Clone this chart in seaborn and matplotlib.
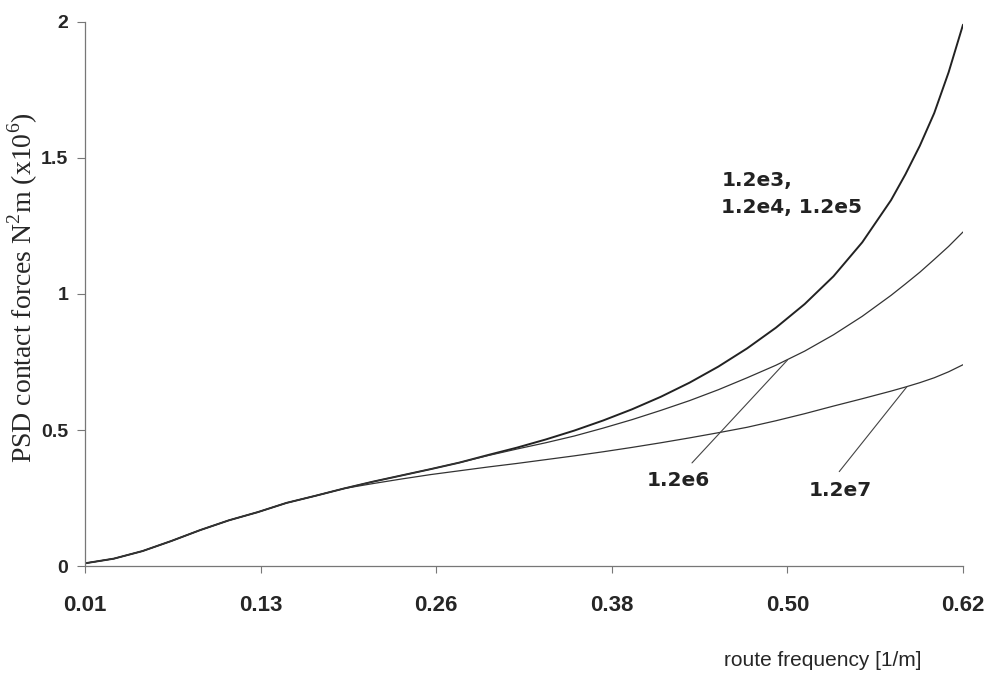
import matplotlib
matplotlib.use("Agg")
import matplotlib.pyplot as plt
import seaborn as sns
import pandas as pd

# ---- data ----
x_vals = [0.01, 0.03, 0.05, 0.07, 0.09, 0.11, 0.13, 0.15, 0.17, 0.19, 0.21, 0.23,
          0.25, 0.27, 0.29, 0.31, 0.33, 0.35, 0.37, 0.39, 0.41, 0.43, 0.45, 0.47,
          0.49, 0.51, 0.53, 0.55, 0.57, 0.58, 0.59, 0.60, 0.61, 0.62]
y_low_damp = [0.010, 0.027, 0.055, 0.092, 0.132, 0.168, 0.198, 0.232, 0.258, 0.285,
              0.310, 0.333, 0.356, 0.380, 0.408, 0.435, 0.465, 0.498, 0.535, 0.576,
              0.622, 0.674, 0.733, 0.800, 0.876, 0.963, 1.065, 1.190, 1.345, 1.440,
              1.545, 1.665, 1.815, 1.990]
y_1e6 = [0.010, 0.027, 0.055, 0.092, 0.132, 0.168, 0.198, 0.232, 0.258, 0.285,
         0.310, 0.333, 0.356, 0.380, 0.406, 0.430, 0.453, 0.478, 0.507, 0.538,
         0.572, 0.608, 0.648, 0.692, 0.738, 0.790, 0.850, 0.918, 0.995, 1.037,
         1.080, 1.127, 1.175, 1.228]
y_1e7 = [0.010, 0.027, 0.055, 0.092, 0.132, 0.168, 0.198, 0.232, 0.258, 0.285,
         0.303, 0.320, 0.336, 0.350, 0.364, 0.377, 0.391, 0.405, 0.420, 0.436,
         0.453, 0.471, 0.490, 0.510, 0.534, 0.560, 0.588, 0.615, 0.643, 0.658,
         0.674, 0.692, 0.714, 0.740]

xtick_vals = [0.01, 0.132, 0.254, 0.376, 0.498, 0.62]
xtick_labels = ["0.01", "0.13", "0.26", "0.38", "0.50", "0.62"]
ytick_vals = [0, 0.5, 1, 1.5, 2]
ytick_labels = ["0", "0.5", "1", "1.5", "2"]

series_names = ["1.2e3-1.2e5", "1.2e6", "1.2e7"]

df = pd.concat([
    pd.DataFrame({"x": x_vals, "y": y_low_damp, "s": series_names[0]}),
    pd.DataFrame({"x": x_vals, "y": y_1e6, "s": series_names[1]}),
    pd.DataFrame({"x": x_vals, "y": y_1e7, "s": series_names[2]}),
])

sns.set_theme(style="white")
plt.rcParams["mathtext.fontset"] = "custom"
plt.rcParams["mathtext.rm"] = "Liberation Serif"

fig = plt.figure(figsize=(9.87, 6.76), dpi=100)
ax = fig.add_axes([0.0861, 0.1627, 0.8896, 0.8048])

sns.lineplot(data=df, x="x", y="y", hue="s", size="s",
             palette={series_names[0]: "#222222", series_names[1]: "#333333", series_names[2]: "#333333"},
             sizes={series_names[0]: 1.4, series_names[1]: 0.9, series_names[2]: 0.9},
             legend=False, ax=ax, estimator=None, sort=False)

ax.set_xlim(0.01, 0.62)
ax.set_ylim(0, 2)
ax.set_xticks(xtick_vals)
ax.set_xticklabels(xtick_labels, family=["Liberation Sans Narrow", "Liberation Sans"],
                   fontweight="bold", fontsize=16)
ax.set_yticks(ytick_vals)
ax.set_yticklabels(ytick_labels, family="Liberation Sans", fontweight="bold", fontsize=14)
ax.tick_params(axis="x", length=5, width=0.8, color="#777777", pad=16, direction="out", bottom=True)
ax.tick_params(axis="y", length=6, width=0.8, color="#777777", pad=6, direction="out", left=True)
for side in ["top", "right"]:
    ax.spines[side].set_visible(False)
for side in ["left", "bottom"]:
    ax.spines[side].set_color("#777777")
    ax.spines[side].set_linewidth(0.9)

ax.set_xlabel("")
ax.set_ylabel("")
fig.text(0.023, 0.574, r"PSD contact forces N$^{\mathrm{2}}$m (x10$^{\mathrm{6}}$)",
         rotation=90, ha="center", va="center", family="Liberation Serif", fontsize=20)
fig.text(0.934, 0.023, "route frequency [1/m]", ha="right", va="center",
         family=["Liberation Sans Narrow", "Liberation Sans"], fontsize=15)

lab_kw = dict(family="DejaVu Sans", fontweight="bold", fontsize=14.5, color="#222222")
ax.text(0.452, 1.368, "1.2e3,\n1.2e4, 1.2e5", ha="left", va="center", linespacing=1.5, **lab_kw)
ax.text(0.422, 0.316, "1.2e6", ha="center", va="center", **lab_kw)
ax.text(0.535, 0.276, "1.2e7", ha="center", va="center", **lab_kw)
ax.annotate("", xy=(0.498, 0.757), xytext=(0.4317, 0.379),
            arrowprops=dict(arrowstyle="-", lw=0.8, color="#444444", shrinkA=0, shrinkB=0))
ax.annotate("", xy=(0.581, 0.659), xytext=(0.534, 0.347),
            arrowprops=dict(arrowstyle="-", lw=0.8, color="#444444", shrinkA=0, shrinkB=0))

fig.savefig("out.png", dpi=100)
